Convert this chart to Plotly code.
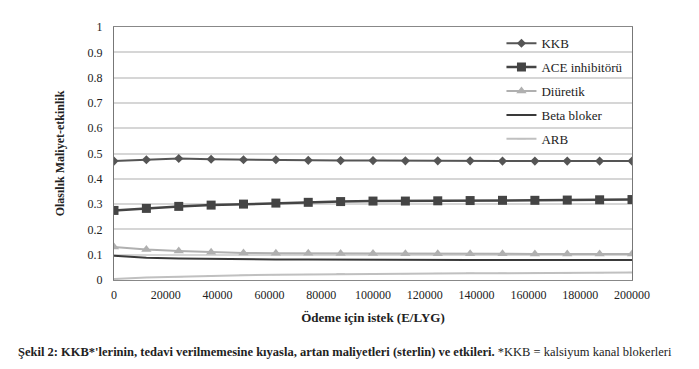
import plotly.graph_objects as go

x_vals = [0, 12500, 25000, 37500, 50000, 62500, 75000, 87500, 100000,
          112500, 125000, 137500, 150000, 162500, 175000, 187500, 200000]
kkb = [0.470, 0.475, 0.480, 0.477, 0.475, 0.475, 0.473, 0.472, 0.472,
       0.471, 0.471, 0.471, 0.470, 0.470, 0.470, 0.470, 0.470]
ace = [0.275, 0.283, 0.291, 0.296, 0.300, 0.304, 0.307, 0.310, 0.312,
       0.312, 0.313, 0.314, 0.315, 0.315, 0.316, 0.317, 0.318]
diuretik = [0.130, 0.121, 0.115, 0.110, 0.107, 0.106, 0.106, 0.105, 0.105,
            0.104, 0.104, 0.104, 0.104, 0.103, 0.103, 0.103, 0.103]
beta = [0.096, 0.088, 0.085, 0.083, 0.082, 0.081, 0.081, 0.080, 0.080,
        0.080, 0.079, 0.079, 0.079, 0.079, 0.079, 0.079, 0.079]
arb = [0.004, 0.010, 0.013, 0.017, 0.019, 0.021, 0.022, 0.025, 0.025,
       0.025, 0.026, 0.027, 0.027, 0.028, 0.028, 0.029, 0.030]

names = ["KKB", "ACE inhibitörü", "Diüretik", "Beta bloker", "ARB"]
x_ticks = [0, 20000, 40000, 60000, 80000, 100000, 120000, 140000, 160000, 180000, 200000]
y_ticks = [0, 0.1, 0.2, 0.3, 0.4, 0.5, 0.6, 0.7, 0.8, 0.9, 1]

FONT = "Liberation Serif"

styles = [
    dict(line=dict(color="#555555", width=2), mode="lines+markers",
         marker=dict(symbol="diamond", size=7, color="#555555")),
    dict(line=dict(color="#444444", width=2.5), mode="lines+markers",
         marker=dict(symbol="square", size=9, color="#444444")),
    dict(line=dict(color="#b0b0b0", width=2), mode="lines+markers",
         marker=dict(symbol="triangle-up", size=9, color="#b0b0b0")),
    dict(line=dict(color="#3a3a3a", width=2), mode="lines"),
    dict(line=dict(color="#c0c0c0", width=2), mode="lines+markers",
         marker=dict(symbol="line-ew", size=6, color="#c0c0c0",
                     line=dict(color="#c0c0c0", width=1))),
]

fig = go.Figure()
for i, (n, ys) in enumerate(zip(names, [kkb, ace, diuretik, beta, arb])):
    fig.add_trace(go.Scatter(x=x_vals, y=ys, name=n, legendgroup=str(i), **styles[i]))

# page body has an 8px default margin, so the figure is drawn 8px smaller
fig.update_layout(
    width=691, height=361,
    margin=dict(l=106, r=67, t=17, b=89),
    paper_bgcolor="white", plot_bgcolor="white",
    font=dict(family=FONT, size=13, color="#222222"),
    showlegend=True,
    legend=dict(x=0.748, y=0.995, xanchor="left", yanchor="top",
                bgcolor="rgba(255,255,255,0)", tracegroupgap=4, itemwidth=30,
                font=dict(family=FONT, size=13, color="#222222")),
    xaxis=dict(range=[0, 200000], tickvals=x_ticks, ticktext=[str(t) for t in x_ticks],
               showgrid=False, zeroline=False, showline=True, linecolor="#888888",
               mirror=True, ticks="", tickfont=dict(size=12), ticklabelstandoff=4,
               title=dict(text="<b>Ödeme için istek (E/LYG)</b>", font=dict(size=13), standoff=11)),
    yaxis=dict(range=[0, 1], tickvals=y_ticks, ticktext=[str(t) for t in y_ticks],
               showgrid=True, gridcolor="#d6d6d6", gridwidth=1.5, zeroline=False,
               showline=True, linecolor="#777777", mirror=True, ticks="",
               tickfont=dict(size=12), ticklabelstandoff=8,
               title=dict(text="<b>Olasılık Maliyet-etkinlik</b>", font=dict(size=12), standoff=20)),
)

fig.add_annotation(
    xref="paper", yref="paper", x=-0.19, y=-0.285, xanchor="left", yanchor="middle",
    showarrow=False,
    text="<b>Şekil 2: KKB*'lerinin, tedavi verilmemesine kıyasla, artan maliyetleri (sterlin) ve etkileri.</b> *KKB = kalsiyum kanal blokerleri",
    font=dict(family=FONT, size=12.5, color="#222222"),
)

fig.write_html("out.html")
